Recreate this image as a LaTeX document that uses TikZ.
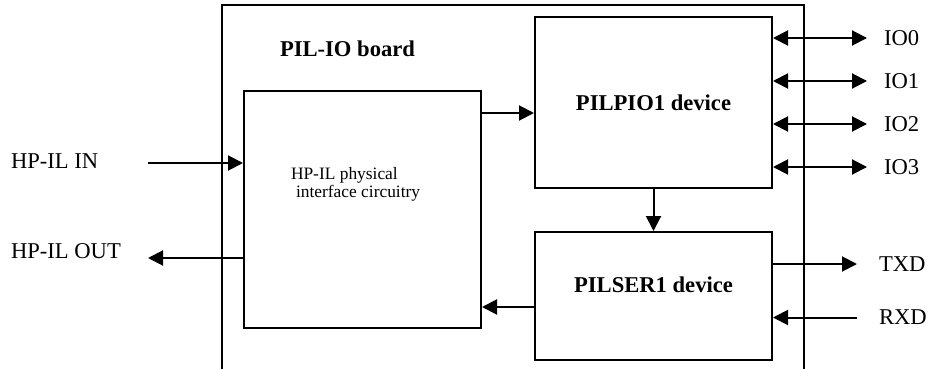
\documentclass[tikz,border=0pt]{standalone}
\usepackage{fontspec}
\setmainfont{Liberation Serif}
\usetikzlibrary{arrows.meta}

\begin{document}
\begin{tikzpicture}[x=0.5pt, y=-0.5pt, line width=1pt,
    box/.style={draw, inner sep=0pt, minimum width=118.5pt},
    title/.style={font=\fontsize{11.3}{13}\selectfont\bfseries, inner sep=0pt},
    pinlabel/.style={font=\fontsize{11.3}{13}\selectfont, inner sep=0pt, anchor=west},
    arr/.style={-{Triangle[length=7.5pt, width=7.5pt]}},
    biarr/.style={{Triangle[length=7.5pt, width=7.5pt]}-{Triangle[length=7.5pt, width=7.5pt]}}]
    \useasboundingbox (0,0) rectangle (930,369);

    % Board outline (open at the bottom)
    \draw (222,369) -- (222,5) -- (804,5) -- (804,369);
    \node[title] (board) at (347.5,48.5) {PIL-IO board};

    % Blocks
    \node[box, minimum height=118.5pt] (hpil) at (362.5,209.5) {};
    \node[font=\fontsize{8.7}{9}\selectfont, align=left, anchor=west, inner sep=0pt]
      (hpiltext) at (290,184) {HP-IL physical\\\hspace*{2.5pt}interface circuitry};
    \node[box, title, minimum height=85.5pt] (pio) at (653.5,102.5) {PILPIO1 device};
    \node[box, minimum height=64pt] (ser) at (653.5,296) {};
    \node[title] (sertext) at (653.5,285) {PILSER1 device};

    % HP-IL loop
    \node[pinlabel] (inlabel) at (10,161.5) {HP-IL IN};
    \node[pinlabel] (outlabel) at (10,251) {HP-IL OUT};
    \coordinate (inL) at (148,163);
    \coordinate (outL) at (148,258);
    \draw[arr] (inL) -- (inL -| hpil.west);
    \draw[arr] (outL -| hpil.west) -- (outL);

    % Internal links
    \draw[arr] ([yshift=-5.25pt]hpil.east |- pio.west) -- ([yshift=-5.25pt]pio.west);
    \draw[arr] (pio.south) -- (ser.north);
    \draw[arr] ([yshift=-5.5pt]ser.west) -- ([yshift=-5.5pt]ser.west -| hpil.east);

    % Parallel port lines
    \foreach \i/\y in {0/38, 1/81, 2/124, 3/167} {
      \node[pinlabel] (io\i) at (883,\y) {IO\i};
      \draw[biarr] (io\i.west -| pio.east) -- ([xshift=-8pt]io\i.west);
    }

    % Serial port lines
    \node[pinlabel] (txd) at (878,264) {TXD};
    \node[pinlabel] (rxd) at (878,317.5) {RXD};
    \draw[arr] (txd.west -| ser.east) -- ([xshift=-10.5pt]txd.west);
    \draw[arr] ([xshift=-10.5pt]rxd.west) -- (rxd.west -| ser.east);
\end{tikzpicture}
\end{document}
